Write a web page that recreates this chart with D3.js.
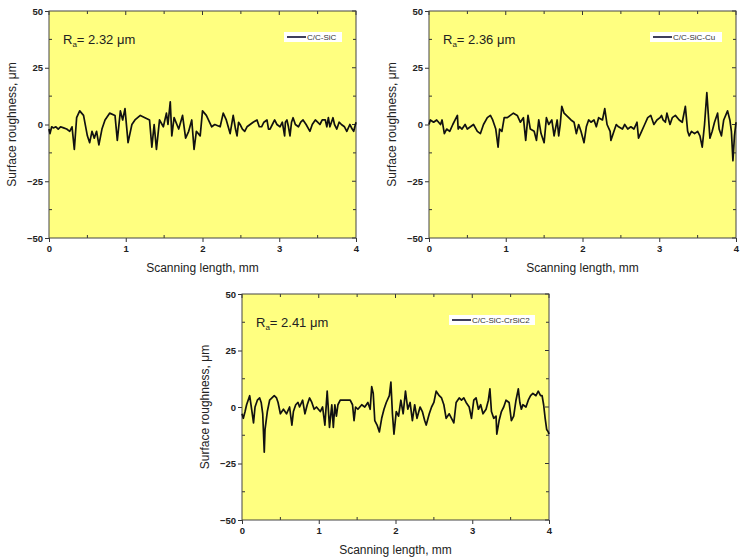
<!DOCTYPE html>
<html><head><meta charset="utf-8">
<script src="https://cdn.jsdelivr.net/npm/d3@7"></script>
<style>body{margin:0;background:#fff}svg{display:block}</style>
</head><body>
<svg id="c" width="748" height="560"></svg>
<script>
const xTicks = [0, 1, 2, 3, 4];
const yTicks = [-50, -25, 0, 25, 50];
const seriesNames = ["C/C-SiC", "C/C-SiC-Cu", "C/C-SiC-CrSiC2"];
const raValues = ["2.32", "2.36", "2.41"];

const sicX = [0,0.013,0.035,0.056,0.09,0.12,0.15,0.19,0.23,0.27,0.30,0.33,0.36,0.40,0.45,0.50,0.53,0.56,0.59,0.62,0.65,0.69,0.73,0.79,0.86,0.89,0.93,0.96,0.99,1.03,1.08,1.12,1.19,1.25,1.31,1.34,1.37,1.40,1.44,1.49,1.53,1.55,1.58,1.60,1.63,1.69,1.74,1.78,1.82,1.86,1.89,1.92,1.97,2.00,2.05,2.12,2.16,2.23,2.27,2.31,2.36,2.40,2.43,2.45,2.47,2.49,2.52,2.55,2.58,2.62,2.66,2.71,2.74,2.77,2.80,2.84,2.86,2.88,2.91,2.94,2.97,3.01,3.04,3.07,3.08,3.10,3.12,3.14,3.16,3.18,3.21,3.25,3.28,3.31,3.35,3.40,3.43,3.47,3.50,3.53,3.56,3.60,3.62,3.64,3.66,3.70,3.72,3.75,3.78,3.81,3.85,3.88,3.92,3.95,3.97,4.0];
const sicY = [-2,-4,-1,-1.5,-1,-2,-1,-1.5,-2,-3,-1,-11,3,6,4,-5,-8,-3,-6,-3,-9,-2,2,5,4,-7,6,2,7,-8,0,2,4,3,2,-10,0,-11,2,-1,5,0,10,-5,3,-2,4,-6,-3,2,-11,-3,-5,6,4,-1,0,-1,5,2,-4,4,-2,-5,1,0,-2,-3,-1,0,1,2,-1,-1,1,2,-2,-2,0,2,0,-1,1,-5,1,2,-1,-5,1,3,0,-1,1,2,0,-3,0,2,1,0,2,2,-1,3,-1,3,0,-2,1,0,-1,-3,0,-2,-3,1];

const cuX = [0,0.017,0.06,0.10,0.15,0.17,0.20,0.23,0.27,0.31,0.34,0.37,0.38,0.40,0.43,0.47,0.50,0.54,0.58,0.63,0.67,0.71,0.76,0.80,0.83,0.87,0.90,0.92,0.95,0.98,1.02,1.06,1.10,1.15,1.19,1.23,1.26,1.29,1.32,1.37,1.40,1.43,1.46,1.50,1.53,1.56,1.60,1.63,1.67,1.69,1.71,1.73,1.76,1.79,1.82,1.85,1.89,1.92,1.95,1.98,2.02,2.05,2.08,2.11,2.15,2.18,2.21,2.26,2.29,2.32,2.36,2.37,2.41,2.44,2.47,2.52,2.55,2.59,2.63,2.67,2.71,2.73,2.77,2.81,2.85,2.89,2.93,2.97,3.01,3.03,3.05,3.08,3.10,3.14,3.17,3.21,3.26,3.30,3.34,3.37,3.39,3.42,3.46,3.50,3.53,3.56,3.59,3.62,3.64,3.66,3.69,3.72,3.76,3.78,3.81,3.84,3.89,3.92,3.94,3.96,3.98,4.0];
const cuY = [0,2,1,2,0,2,-4,-2,-3,0,2,4,-2,-1,-2,0,-2,-1,0,-3,-4,0,3,4,2,-2,-10,-2,-3,3,3,4,5,4,1,3,-7,4,-2,-3,-7,2,-4,-8,3,0,2,-5,2,-5,0,8,5,4,3,2,1,-4,0,-3,-8,-1,2,1,2,-1,3,2,7,0,-3,-7,-3,0,-1,-2,0,-2,-1,-2,1,-6,-3,0,3,4,0,2,3,4,2,1,5,0,3,4,2,1,8,-3,-5,-3,-4,-3,-5,-10,0,14,4,-6,-3,1,5,-2,-5,2,6,2,-3,-16,-5,1];

const crX = [0,0.017,0.04,0.06,0.10,0.13,0.15,0.17,0.20,0.23,0.25,0.27,0.29,0.30,0.33,0.36,0.39,0.42,0.45,0.47,0.50,0.54,0.58,0.62,0.65,0.67,0.70,0.73,0.75,0.79,0.82,0.85,0.88,0.91,0.94,0.97,1.02,1.05,1.08,1.11,1.14,1.17,1.19,1.21,1.23,1.25,1.28,1.32,1.36,1.41,1.44,1.46,1.48,1.51,1.56,1.60,1.64,1.67,1.69,1.71,1.73,1.76,1.79,1.82,1.85,1.88,1.92,1.94,1.96,1.98,2.01,2.04,2.07,2.10,2.13,2.16,2.19,2.22,2.25,2.28,2.32,2.35,2.38,2.40,2.44,2.47,2.50,2.53,2.57,2.60,2.63,2.66,2.70,2.73,2.76,2.79,2.83,2.86,2.89,2.92,2.96,2.99,3.02,3.05,3.08,3.11,3.14,3.18,3.21,3.23,3.25,3.28,3.31,3.32,3.35,3.38,3.41,3.44,3.48,3.51,3.54,3.57,3.60,3.62,3.64,3.66,3.70,3.73,3.76,3.79,3.83,3.86,3.89,3.91,3.93,3.95,3.97,3.99,4.0];
const crY = [-3,-5,-2,1,5,-2,-7,0,3,4,2,-3,-20,-10,-2,3,4,5,4,2,-3,-1,-3,0,-8,-2,1,2,0,3,-3,1,4,2,-1,0,-2,0,-8,7,-9,1,-9,1,-4,1,3,3,3,3,1,-6,0,-1,1,0,2,-1,9,6,-6,-8,-11,-5,-1,2,5,11,-3,-12,-2,-4,3,-3,7,-1,2,-6,1,-5,0,-2,-6,-8,-3,0,2,7,5,4,1,-5,-3,-5,-7,2,4,3,4,2,0,-5,3,4,-1,1,-3,-1,3,8,-2,-5,-4,-12,-6,-2,0,3,2,-6,-4,3,8,2,-1,1,0,3,5,6,5,7,5,5,1,-5,-10,-11,-12];

const panels = [
  {x: sicX, y: sicY, l: 49, r: 356, t: 11, b: 238, name: seriesNames[0], ra: raValues[0], legW: 58},
  {x: cuX, y: cuY, l: 429, r: 736, t: 11, b: 238, name: seriesNames[1], ra: raValues[1], legW: 72},
  {x: crX, y: crY, l: 242, r: 549, t: 294, b: 520, name: seriesNames[2], ra: raValues[2], legW: 86}
];

const svg = d3.select("#c");
const font = "Arial, 'Liberation Sans', sans-serif";

panels.forEach(p => {
  const xs = d3.scaleLinear().domain([0, 4]).range([p.l, p.r]);
  const ys = d3.scaleLinear().domain([-50, 50]).range([p.b, p.t]);
  const g = svg.append("g");
  g.append("rect").attr("x", p.l).attr("y", p.t).attr("width", p.r - p.l).attr("height", p.b - p.t)
    .attr("fill", "#ffff80");

  const xMinor = d3.range(0.5, 4, 1);
  const yMinor = d3.range(-37.5, 50, 25);
  const tickCol = "#333";
  const bx = g.append("g").attr("transform", `translate(0,${p.b})`)
    .call(d3.axisBottom(xs).tickValues(xTicks).tickSize(4).tickPadding(3).tickFormat(d3.format("d")));
  const ly = g.append("g").attr("transform", `translate(${p.l},0)`)
    .call(d3.axisLeft(ys).tickValues(yTicks).tickSize(4).tickPadding(2).tickFormat(d3.format("d")));
  [bx, ly].forEach(a => {
    a.select(".domain").remove();
    a.selectAll("line").attr("stroke", tickCol);
    a.selectAll("text").attr("font-family", font).attr("font-size", 9.5).attr("font-weight", "bold").attr("fill", "#222");
  });
  xMinor.forEach(v => {
    g.append("line").attr("x1", xs(v)).attr("x2", xs(v)).attr("y1", p.b).attr("y2", p.b - 3).attr("stroke", tickCol);
    g.append("line").attr("x1", xs(v)).attr("x2", xs(v)).attr("y1", p.t).attr("y2", p.t + 3).attr("stroke", tickCol);
  });
  xTicks.forEach(v => {
    g.append("line").attr("x1", xs(v)).attr("x2", xs(v)).attr("y1", p.t).attr("y2", p.t + 4).attr("stroke", tickCol);
  });
  yMinor.forEach(v => {
    g.append("line").attr("x1", p.l).attr("x2", p.l + 3).attr("y1", ys(v)).attr("y2", ys(v)).attr("stroke", tickCol);
    g.append("line").attr("x1", p.r).attr("x2", p.r - 3).attr("y1", ys(v)).attr("y2", ys(v)).attr("stroke", tickCol);
  });
  yTicks.forEach(v => {
    g.append("line").attr("x1", p.r).attr("x2", p.r - 4).attr("y1", ys(v)).attr("y2", ys(v)).attr("stroke", tickCol);
  });

  g.append("rect").attr("x", p.l).attr("y", p.t).attr("width", p.r - p.l).attr("height", p.b - p.t)
    .attr("fill", "none").attr("stroke", "#444").attr("stroke-width", 1);

  const data = p.x.map((v, i) => [v, p.y[i]]);
  g.append("path").datum(data)
    .attr("d", d3.line().x(d => xs(d[0])).y(d => ys(d[1])))
    .attr("fill", "none").attr("stroke", "#111").attr("stroke-width", 1.7).attr("stroke-linejoin", "round");

  g.append("text").attr("x", (p.l + p.r) / 2).attr("y", p.b + 34).attr("text-anchor", "middle")
    .attr("font-family", font).attr("font-size", 12).attr("fill", "#222").text("Scanning length, mm");
  g.append("text").attr("transform", `translate(${p.l - 33},${(p.t + p.b) / 2}) rotate(-90)`)
    .attr("text-anchor", "middle").attr("font-family", font).attr("font-size", 12).attr("fill", "#222")
    .text("Surface roughness, \u03bcm");

  const ra = g.append("text").attr("x", p.l + 14).attr("y", p.t + 33)
    .attr("font-family", font).attr("font-size", 13).attr("fill", "#222");
  ra.append("tspan").text("R");
  ra.append("tspan").attr("font-size", 8).attr("dy", 3).text("a");
  ra.append("tspan").attr("dy", -3).text("= " + p.ra + " \u03bcm");

  const lx = p.r - 14 - p.legW, ly0 = p.t + 21;
  g.append("rect").attr("x", lx).attr("y", ly0).attr("width", p.legW).attr("height", 10).attr("fill", "#fff");
  g.append("line").attr("x1", lx + 3).attr("x2", lx + 22).attr("y1", ly0 + 5).attr("y2", ly0 + 5)
    .attr("stroke", "#2a2a4a").attr("stroke-width", 1.8);
  g.append("text").attr("x", lx + 23).attr("y", ly0 + 8).attr("font-family", font).attr("font-size", 8)
    .attr("fill", "#333").text(p.name);
});
</script>
</body></html>
